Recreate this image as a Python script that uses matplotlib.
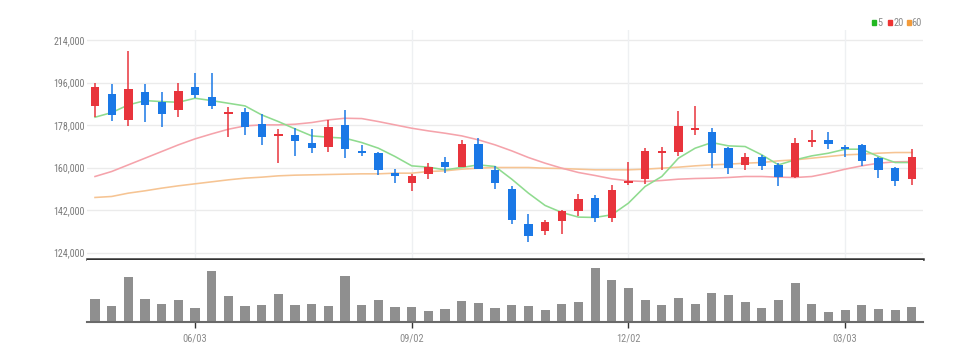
import matplotlib
matplotlib.use("Agg")
import matplotlib.pyplot as plt
import numpy as np

# ---- data (weekly candles) ----
opens = [186080, 191017, 180160, 192004, 187633, 184531, 193978, 189889, 182698, 183685,
         178468, 173533, 173815, 170290, 168598, 178045, 167188, 166342, 157882, 153370,
         157318, 162394, 160420, 169867, 159010, 150832, 136168, 132925, 137155, 141385,
         147025, 138565, 153370, 155062, 166060, 166624, 175789, 174943, 168457, 161125,
         164368, 161125, 155908, 170713, 171559, 168880, 169585, 163945, 159715, 155062]
closes = [193980, 182134, 193414, 186646, 182557, 192427, 190735, 186082, 183544, 177340,
          172828, 174097, 171136, 168175, 177340, 168034, 166060, 159010, 156190, 156190,
          160420, 160420, 170008, 159574, 153370, 137578, 130810, 136873, 141667, 146743,
          138565, 150550, 154357, 167047, 166906, 177763, 176635, 166342, 159715, 164650,
          160702, 155908, 170572, 171700, 170008, 168034, 162817, 159010, 154075, 164650]
highs = [195670, 195247, 209488, 195247, 191863, 195670, 200182, 199900, 185800, 185095,
         182557, 176212, 176917, 176494, 180160, 184390, 169585, 166765, 159292, 157318,
         162112, 164368, 171700, 172405, 160702, 151960, 140398, 137860, 142090, 148858,
         148153, 152383, 162535, 168175, 168598, 184108, 186082, 176635, 168880, 166060,
         165355, 161830, 172405, 175930, 175225, 169585, 170008, 164650, 160138, 167752]
lows = [181290, 179878, 177622, 179314, 177199, 181288, 189325, 184672, 173110, 173815,
        169585, 161830, 165073, 166060, 166483, 164227, 165073, 156613, 153370, 149845,
        155062, 157882, 160138, 159292, 150832, 136027, 128413, 131515, 131797, 139270,
        136732, 136732, 152383, 153088, 159010, 165073, 173815, 159856, 157318, 159010,
        159010, 151960, 155626, 168880, 167893, 164650, 160702, 155485, 151960, 152665]
ma5 = [181290, 183262, 186505, 188338, 187915, 187633, 189325, 188338, 187210, 186082,
       182275, 179455, 176353, 173392, 172828, 172405, 170572, 168175, 164650, 160702,
       160138, 159010, 160000, 161125, 160420, 155062, 149140, 143923, 140962, 138988,
       138847, 139975, 144910, 151960, 156190, 163945, 168175, 170572, 169162, 168880,
       165355, 161125, 163240, 164932, 166060, 167752, 167752, 164650, 162112, 162112]
ma20 = [156190, 158305, 161125, 163945, 166765, 169585, 172123, 174238, 176212, 177622,
        178045, 178045, 178327, 179032, 180160, 180865, 180724, 179455, 178045, 176635,
        175507, 174520, 173392, 171700, 169585, 167047, 164227, 161830, 159715, 157882,
        156613, 155203, 154357, 154075, 154498, 155062, 155344, 155485, 155767, 156190,
        156190, 155908, 155767, 156190, 157600, 159292, 160702, 161830, 162394, 162535]
ma60 = [147307, 147730, 149140, 150127, 151255, 152242, 153088, 153934, 154780, 155485,
        155908, 156472, 156754, 156895, 157036, 157177, 157318, 157318, 157600, 157600,
        158305, 158587, 159292, 159715, 159997, 159997, 159997, 159715, 159574, 159292,
        159010, 159010, 159010, 159292, 159715, 160138, 160702, 161125, 161407, 161830,
        162112, 162817, 163240, 163945, 164650, 165355, 165637, 166060, 166342, 166342]
volumes = [68, 47, 135, 70, 53, 65, 43, 153, 78, 49, 50, 85, 50, 55, 48, 138, 50, 65, 45, 45,
           32, 40, 63, 57, 43, 50, 48, 35, 55, 60, 163, 127, 102, 65, 50, 73, 53, 88, 80, 60,
           43, 65, 117, 55, 30, 35, 52, 40, 35, 45]
tick_idx = [6, 19, 32, 45]
tick_labels = ["06/03", "09/02", "12/02", "03/03"]
y_ticks = [124000, 142000, 160000, 178000, 196000, 214000]

# ---- styling ----
W, H = 979, 361
RED = "#e8343c"
BLUE = "#1a78e6"
FONT = ["Roboto Condensed", "Liberation Sans Narrow", "Liberation Sans", "DejaVu Sans"]

fig = plt.figure(figsize=(W / 100, H / 100), dpi=100)
fig.patch.set_facecolor("white")

def fx(px):
    return px / W

def fy(py):
    return 1 - py / H

x = np.arange(len(opens))
xlim = ((87 - 95) / 16.67, (923 - 95) / 16.67)

# main price axes
ax = fig.add_axes([fx(87), fy(259), fx(923) - fx(87), fy(30) - fy(259)])
ax.set_xlim(*xlim)
ppp = 18000 / 42.5
ax.set_ylim(214000 - (259 - 40) * ppp, 214000 + 10 * ppp)
for s in ["top", "left", "right"]:
    ax.spines[s].set_visible(False)
ax.spines["bottom"].set_color("#333333")
ax.spines["bottom"].set_linewidth(1.8)
ax.set_yticks(y_ticks)
ax.set_yticklabels([f"{v:,}" for v in y_ticks], family=FONT, fontstretch="condensed",
                   fontsize=7.2, color="#7a7a7a")
ax.tick_params(axis="y", length=0, pad=1.5)
ax.set_xticks(tick_idx)
ax.tick_params(axis="x", length=0, labelbottom=False)
for v in y_ticks:
    ax.axhline(v, color="#ebebeb", lw=1.0, zorder=0)
for t in tick_idx:
    ax.axvline(t, color="#eef0f2", lw=1.0, zorder=0)

# moving averages
ax.plot(x, ma60, color="#f6c493", lw=1.15, zorder=1)
ax.plot(x, ma20, color="#f5a3ab", lw=1.15, zorder=1)
ax.plot(x, ma5, color="#8fdb8f", lw=1.15, zorder=1)

# candles
o = np.array(opens); c = np.array(closes)
up = c >= o
colors = np.where(up, RED, BLUE)
ax.vlines(x, lows, highs, colors=colors, lw=1.1, zorder=2)
bottoms = np.minimum(o, c)
heights = np.maximum(np.abs(c - o), 700)
ax.bar(x, heights, bottom=bottoms, width=0.5, color=colors, zorder=3, linewidth=0)

# legend
leg = [("#22b822", "5"), ("#ee3333", "20"), ("#f39b3a", "60")]
lx = [872.5, 888.5, 907]
for (col, lab), px in zip(leg, lx):
    fig.patches.append(plt.Rectangle((fx(px), fy(24.5)), 4 / W, 4.5 / H, transform=fig.transFigure,
                                     color=col, figure=fig))
    fig.text(fx(px + 4.8), fy(22.5), lab, family=FONT, fontstretch="condensed", fontsize=7.5,
             color="#8a8a8a", va="center", ha="left")

# volume axes
vax = fig.add_axes([fx(87), fy(322), fx(923) - fx(87), fy(260) - fy(322)])
vax.set_xlim(*xlim)
vax.set_ylim(0, 186)
vax.bar(x, volumes, width=0.55, color="#8f8f8f", linewidth=0)
for s in ["top", "left", "right"]:
    vax.spines[s].set_visible(False)
vax.spines["bottom"].set_color("#6a6a6a")
vax.spines["bottom"].set_linewidth(1.5)
vax.set_yticks([])
vax.set_xticks(tick_idx)
vax.set_xticklabels(tick_labels, family=FONT, fontstretch="condensed", fontsize=7.5, color="#8a8a8a")
vax.tick_params(axis="x", length=4, width=1, color="#333333", pad=4)

fig.savefig("out.png", dpi=100, facecolor="white")
